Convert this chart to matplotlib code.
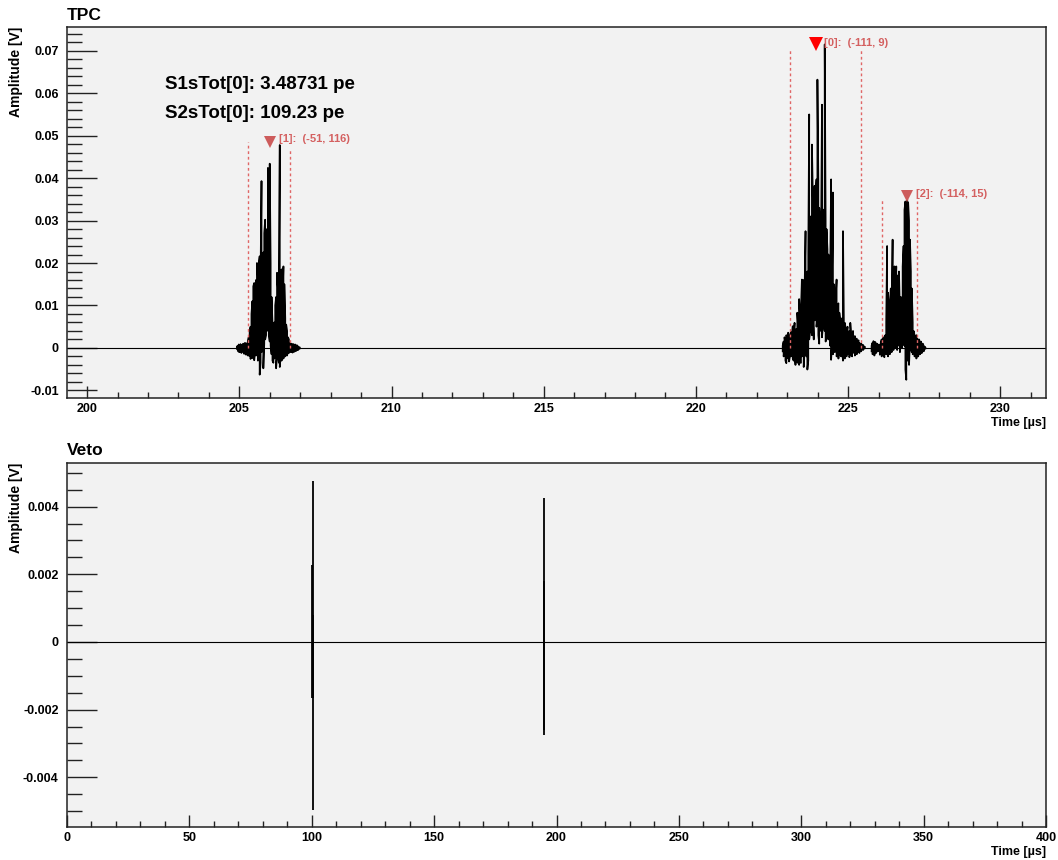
import numpy as np
import matplotlib
matplotlib.use("Agg")
from matplotlib import pyplot as plt
from matplotlib.ticker import MultipleLocator, FuncFormatter

plt.rcParams["font.family"] = ["Liberation Sans", "DejaVu Sans"]
plt.rcParams["font.weight"] = "bold"
plt.rcParams["axes.unicode_minus"] = False

# min/max display bins of the TPC digitizer [us]
BIN_US = 0.03

# pulse [1] region: first bin time, per-bin max / min [mV]
p1_start = 204.92
p1_hi = [0.3, 0.5, 0.8, 0.4, 0.9, 0.2, 0.6, 1.0, 0.5, 1.2,
         0.7, 1.1, 1.5, 2.5, 3.8, 5.0, 8.0, 11.0, 14.5, 15.3,
         12.0, 16.0, 20.0, 17.0, 20.0, 21.6, 18.0, 39.3, 22.0, 22.5,
         27.0, 30.2, 24.5, 28.0, 42.4, 33.0, 43.4, 20.0, 12.0, 6.0,
         4.5, 6.0, 10.0, 12.0, 17.7, 14.0, 16.0, 47.8, 14.5, 18.5,
         12.0, 19.2, 15.0, 7.0, 5.5, 4.0, 2.5, 2.0, 1.2, 0.8,
         1.0, 0.6, 0.9, 0.5, 0.8, 0.4, 0.6, 0.3, 0.2, 0.1]
p1_lo = [-0.2, -0.6, -0.9, -1.0, -0.5, -1.2, -0.4, -0.7, -1.4, -0.8,
         -1.6, -0.6, -1.8, -1.2, -2.0, -2.6, -1.5, -2.4, -1.0, -2.9,
         -0.5, -1.8, -1.2, -3.0, -2.0, -6.3, -3.5, -1.0, 0.5, -4.8,
         1.0, 2.0, 3.0, 4.0, 5.0, 3.0, 1.5, 0.5, -1.5, -3.0,
         -3.5, -2.5, -1.0, -4.8, -2.0, -1.5, -3.5, -4.5, -2.0, -3.0,
         -1.0, -2.5, -1.5, -2.0, -1.0, -1.8, -0.8, -1.2, -0.7, -1.0,
         -0.9, -1.1, -0.6, -0.9, -0.5, -0.7, -0.3, -0.5, -0.2, -0.1]

# pulse [0] region
p0_start = 222.85
p0_hi = [0.5, 1.5, 2.5, 1.0, 3.0, 2.0, 3.6, 1.5, 2.8, 3.8,
         2.5, 5.1, 3.0, 5.9, 3.5, 4.5, 8.3, 5.0, 11.5, 7.0,
         9.0, 16.1, 13.0, 16.0, 14.0, 27.5, 17.0, 18.0, 22.0, 55.0,
         24.0, 31.0, 47.9, 35.4, 34.0, 38.2, 36.0, 39.7, 63.2, 39.7,
         33.0, 28.0, 25.5, 57.3, 32.6, 29.0, 71.5, 30.0, 28.0, 23.2,
         22.0, 19.0, 17.8, 39.7, 17.0, 36.6, 15.0, 9.8, 12.0, 16.1,
         10.0, 10.5, 8.3, 6.5, 5.5, 7.0, 27.5, 5.0, 5.9, 4.5,
         3.5, 5.0, 3.0, 4.0, 5.9, 3.0, 2.5, 4.0, 2.0, 2.8,
         1.5, 2.2, 1.0, 1.8, 1.2, 0.8, 1.0, 0.5, 0.7, 0.3, 0.2]
p0_lo = [-0.8, -2.0, -1.0, -3.0, -3.6, -1.5, -2.5, -3.2, -1.8, -2.0,
         -1.2, -2.5, -3.0, -1.5, -4.0, -2.0, -3.5, -2.8, -4.0, -3.5,
         -3.5, -2.0, -1.0, -4.5, -0.5, 1.0, -2.0, -5.1, -3.0, 2.0,
         4.0, 6.0, 3.0, 7.0, 2.0, 6.5, 8.0, 5.0, 7.0, 3.0,
         1.0, 4.0, 6.0, 2.5, 5.0, 7.0, 4.0, 1.5, 3.0, 5.0,
         2.0, 4.0, 0.5, -2.8, 1.0, -1.5, 2.0, -1.0, 0.5, -2.0,
         -1.0, -2.5, 0.0, -1.5, -2.0, -0.5, -3.0, -1.0, -2.5, -1.0,
         -2.0, -0.5, -1.5, -2.2, -0.8, -1.5, -2.0, -0.5, -1.2, -1.8,
         -0.6, -1.5, -1.0, -0.4, -1.2, -0.5, -0.8, -0.3, -0.5, -0.2, -0.1]

# pulse [2] region
p2_start = 225.77
p2_hi = [0.5, 1.2, 1.6, 0.8, 1.4, 0.6, 1.0, 0.3, 0.8, 0.5,
         1.2, 2.0, 1.0, 2.5, 1.5, 3.0, 6.0, 24.0, 13.0, 10.0,
         8.0, 14.0, 9.0, 25.5, 11.0, 19.2, 12.0, 19.2, 10.0, 17.1,
         18.0, 8.0, 12.0, 9.0, 19.2, 24.0, 32.5, 34.5, 33.0, 35.0,
         34.3, 30.0, 25.5, 18.0, 14.0, 6.0, 4.0, 3.0, 2.5, 3.0,
         2.2, 1.5, 2.0, 1.2, 1.5, 0.8, 1.0, 0.5, 0.3, 0.1]
p2_lo = [-0.8, -1.5, -1.0, -1.8, -0.6, -1.2, -0.5, -0.8, -0.3, -1.6,
         -1.0, -2.0, -0.8, -1.5, -2.2, -0.8, -1.5, -1.0, -2.0, -0.5,
         -1.5, 0.0, -1.0, 0.5, -0.5, 1.0, 0.0, 1.5, -0.5, 1.0,
         0.5, -1.0, 1.5, 0.0, 2.0, 1.0, 0.5, -5.1, -7.5, -3.0,
         0.5, -4.0, 1.5, 0.0, -1.0, -1.5, -0.5, -2.0, -1.0, -2.5,
         -1.5, -2.0, -0.8, -1.5, -1.0, -1.2, -0.5, -0.8, -0.3, -0.1]

# found peaks: marker position [us, V], label text
peak_ids = ["[1]", "[0]", "[2]"]
peak_info = ["(-51, 116)", "(-111, 9)", "(-114, 15)"]
peak_t = [206.00, 223.93, 226.94]
peak_v = [0.0485, 0.0715, 0.0357]

# integration windows (dotted lines) [us] and their heights [V]
win_start = [205.27, 223.10, 226.10]
win_end = [206.66, 225.43, 227.27]
win_start_top = [0.0485, 0.0707, 0.0350]
win_end_top = [0.0471, 0.0707, 0.0346]

s1_total = 3.48731
s2_total = 109.23

# veto trace, min/max per bin [us, mV]
veto_t = [100.1, 100.4, 100.7, 194.75, 195.05]
veto_hi = [2.27, 4.76, 0.79, 1.80, 4.26]
veto_lo = [-1.67, -4.98, -1.67, -2.76, -2.60]


def minmax_trace(start, hi, lo):
    # walk through each bin lo->hi / hi->lo so the trace stays connected
    t = start + BIN_US * np.arange(len(hi))
    pairs = np.column_stack([lo, hi]) * 1e-3
    pairs[1::2] = pairs[1::2, ::-1]
    return np.repeat(t, 2), pairs.ravel()


def fmt(v, pos):
    return f"{round(v, 6) + 0.0:g}"


def style_axes(ax):
    ax.set_facecolor("#f2f2f2")
    for side in ["left", "right", "top", "bottom"]:
        ax.spines[side].set_linewidth(1.1)
        ax.spines[side].set_color("#222222")
    ax.tick_params(axis="both", which="both", direction="in", width=1.0,
                   color="#222222", labelsize=9, top=False, right=False)
    ax.tick_params(axis="y", which="major", length=21.5, pad=6)
    ax.tick_params(axis="y", which="minor", length=11)
    ax.tick_params(axis="x", which="major", length=8.5, pad=3.5)
    ax.tick_params(axis="x", which="minor", length=4.5)
    ax.xaxis.set_major_formatter(FuncFormatter(fmt))
    ax.yaxis.set_major_formatter(FuncFormatter(fmt))
    for lab in ax.get_xticklabels() + ax.get_yticklabels():
        lab.set_fontweight("bold")


fig = plt.figure(figsize=(10.58, 8.6), dpi=100)
fig.patch.set_facecolor("white")

# ---- TPC ----
ax1 = fig.add_axes([0.0633, 0.5372, 0.9254, 0.4314])
ax1.axhline(0, color="black", lw=0.8, zorder=2)
for start, hi, lo in [(p1_start, p1_hi, p1_lo), (p0_start, p0_hi, p0_lo),
                      (p2_start, p2_hi, p2_lo)]:
    t, v = minmax_trace(start, hi, lo)
    ax1.plot(t, v, color="black", lw=1.25, zorder=3)

win_color = "#e06666"
ax1.vlines(win_start, 0, win_start_top, colors=win_color, lw=1.0,
           linestyles=(0, (2, 2)), zorder=4)
ax1.vlines(win_end, 0, win_end_top, colors=win_color, lw=1.0,
           linestyles=(0, (2, 2)), zorder=4)

for i in range(len(peak_ids)):
    main = peak_ids[i] == "[0]"
    ax1.plot(peak_t[i], peak_v[i], marker="v", linestyle="none",
             color="#ff0000" if main else "#cd5c5c",
             markersize=10 if main else 8, markeredgewidth=0, zorder=5)
    ax1.annotate(f"{peak_ids[i]}:  {peak_info[i]}", xy=(peak_t[i], peak_v[i]),
                 xytext=(6 if main else 6.5, 1 if main else 2),
                 textcoords="offset points", color="#d46060", fontsize=8,
                 fontweight="bold", ha="left", va="center", zorder=5)

ax1.text(0.100, 0.846, f"S1sTot[0]: {s1_total} pe", transform=ax1.transAxes,
         fontsize=13.5, fontweight="bold", va="center")
ax1.text(0.100, 0.768, f"S2sTot[0]: {s2_total} pe", transform=ax1.transAxes,
         fontsize=13.5, fontweight="bold", va="center")

ax1.set_xlim(199.34, 231.5)
ax1.set_ylim(-0.0118, 0.0756)
ax1.xaxis.set_major_locator(MultipleLocator(5))
ax1.xaxis.set_minor_locator(MultipleLocator(1))
ax1.yaxis.set_major_locator(MultipleLocator(0.01))
ax1.yaxis.set_minor_locator(MultipleLocator(0.002))
style_axes(ax1)

# ---- Veto ----
ax2 = fig.add_axes([0.0633, 0.0380, 0.9254, 0.4240])
ax2.axhline(0, color="black", lw=0.8, zorder=2)
ax2.vlines(veto_t, np.array(veto_lo) * 1e-3, np.array(veto_hi) * 1e-3,
           colors="black", lw=1.3, zorder=3)
ax2.set_xlim(0, 400)
ax2.set_ylim(-0.00548, 0.0053)
ax2.xaxis.set_major_locator(MultipleLocator(50))
ax2.xaxis.set_minor_locator(MultipleLocator(10))
ax2.yaxis.set_major_locator(MultipleLocator(0.002))
ax2.yaxis.set_minor_locator(MultipleLocator(0.0005))
style_axes(ax2)

# pad titles and axis titles
fig.text(67 / 1058, 1 - 15 / 860, "TPC", fontsize=12.5, fontweight="bold",
         ha="left", va="center")
fig.text(67 / 1058, 1 - 451 / 860, "Veto", fontsize=12.5, fontweight="bold",
         ha="left", va="center")
for ax in (ax1, ax2):
    pos = ax.get_position()
    fig.text(16 / 1058, pos.y1, "Amplitude [V]", rotation=90, fontsize=10,
             fontweight="bold", ha="center", va="top")
    fig.text(pos.x1, pos.y0 - 25 / 860, "Time [\u00b5s]", fontsize=9,
             fontweight="bold", ha="right", va="center")

fig.savefig("out.png", dpi=100)
